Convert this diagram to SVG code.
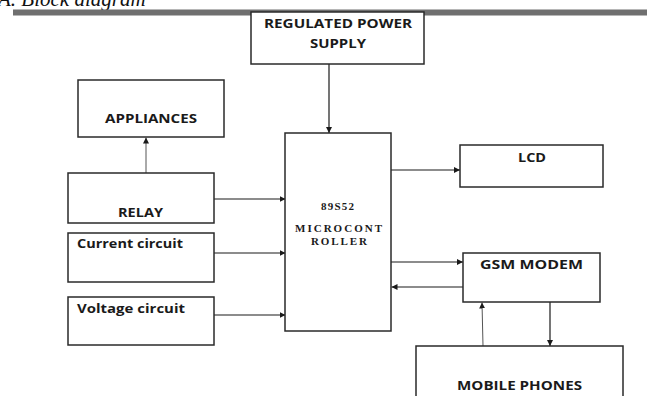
<svg xmlns="http://www.w3.org/2000/svg" width="647" height="396" viewBox="0 0 647 396">
<defs>
<style>
.box{fill:#fff;stroke:#2a2a2a;stroke-width:1.5}
.lbl{font-family:"Open Sans","Liberation Sans",sans-serif;font-weight:bold;font-size:12.5px;fill:#1a1a1a}
.mc{font-family:"Liberation Serif","Times New Roman",serif;font-weight:bold;font-size:11px;fill:#1a1a1a}
.ln{stroke:#1a1a1a;stroke-width:1.2;fill:none}
.lg{stroke:#555;stroke-width:1;fill:none}
</style>
<marker id="ah" viewBox="0 0 10 10" refX="10" refY="5" markerWidth="6" markerHeight="6" markerUnits="userSpaceOnUse" orient="auto">
<path d="M0,0 L10,5 L0,10 z" fill="#1a1a1a"/>
</marker>
</defs>
<rect width="647" height="396" fill="#fff"/>
<text x="-2" y="6" font-family="'Liberation Serif','Times New Roman',serif" font-style="italic" font-size="21" fill="#111">A. Block diagram</text>
<rect x="13" y="9.5" width="634" height="6" fill="#6f6f6f"/>

<g id="connectors">
<line class="ln" x1="329" y1="64" x2="329" y2="133" marker-end="url(#ah)" stroke-width="1.6"/>
<line class="lg" x1="146" y1="173" x2="146" y2="137.5" marker-end="url(#ah)"/>
<line class="ln" x1="214" y1="199" x2="285.5" y2="199" marker-end="url(#ah)"/>
<line class="ln" x1="214" y1="253" x2="285.5" y2="253" marker-end="url(#ah)"/>
<line class="ln" x1="214" y1="315" x2="285.5" y2="315" marker-end="url(#ah)"/>
<line class="ln" x1="391" y1="170" x2="460" y2="170" marker-end="url(#ah)"/>
<line class="ln" x1="391" y1="262" x2="463" y2="262" marker-end="url(#ah)"/>
<line class="ln" x1="463" y1="287" x2="391.5" y2="287" marker-end="url(#ah)"/>
<line class="lg" x1="483" y1="346" x2="482" y2="302.5" marker-end="url(#ah)"/>
<line class="ln" x1="550" y1="302" x2="550" y2="346" marker-end="url(#ah)" stroke-width="1"/>
</g>

<g id="power">
<rect class="box" x="251" y="12" width="173" height="52"/>
<text class="lbl" x="338" y="28" text-anchor="middle" textLength="148" lengthAdjust="spacingAndGlyphs">REGULATED POWER</text>
<text class="lbl" x="338" y="48" text-anchor="middle" textLength="56" lengthAdjust="spacingAndGlyphs">SUPPLY</text>
</g>
<g id="appliances">
<rect class="box" x="78" y="80" width="146" height="57"/>
<text class="lbl" x="105" y="123" textLength="92" lengthAdjust="spacingAndGlyphs">APPLIANCES</text>
</g>
<g id="relay">
<rect class="box" x="68" y="173" width="146" height="50"/>
<text class="lbl" x="118" y="217" textLength="45" lengthAdjust="spacingAndGlyphs">RELAY</text>
</g>
<g id="current">
<rect class="box" x="68" y="233" width="146" height="49"/>
<text class="lbl" x="77" y="248" textLength="106" lengthAdjust="spacingAndGlyphs">Current circuit</text>
</g>
<g id="voltage">
<rect class="box" x="68" y="297" width="146" height="48"/>
<text class="lbl" x="77" y="313" textLength="108" lengthAdjust="spacingAndGlyphs">Voltage circuit</text>
</g>
<g id="micro">
<rect class="box" x="285" y="133" width="106" height="198"/>
<text class="mc" x="321" y="210" textLength="33" lengthAdjust="spacing">89S52</text>
<text class="mc" x="295" y="232" textLength="87" lengthAdjust="spacing">MICROCONT</text>
<text class="mc" x="311" y="245" textLength="56" lengthAdjust="spacing">ROLLER</text>
</g>
<g id="lcd">
<rect class="box" x="460" y="145" width="143" height="42"/>
<text class="lbl" x="518" y="162" textLength="28" lengthAdjust="spacingAndGlyphs">LCD</text>
</g>
<g id="gsm">
<rect class="box" x="463" y="253" width="137" height="49"/>
<text class="lbl" x="480" y="269" textLength="103" lengthAdjust="spacingAndGlyphs">GSM MODEM</text>
</g>
<g id="mobile">
<rect class="box" x="416" y="346" width="207" height="60"/>
<text class="lbl" x="457" y="390" textLength="125" lengthAdjust="spacingAndGlyphs">MOBILE PHONES</text>
</g>
</svg>
